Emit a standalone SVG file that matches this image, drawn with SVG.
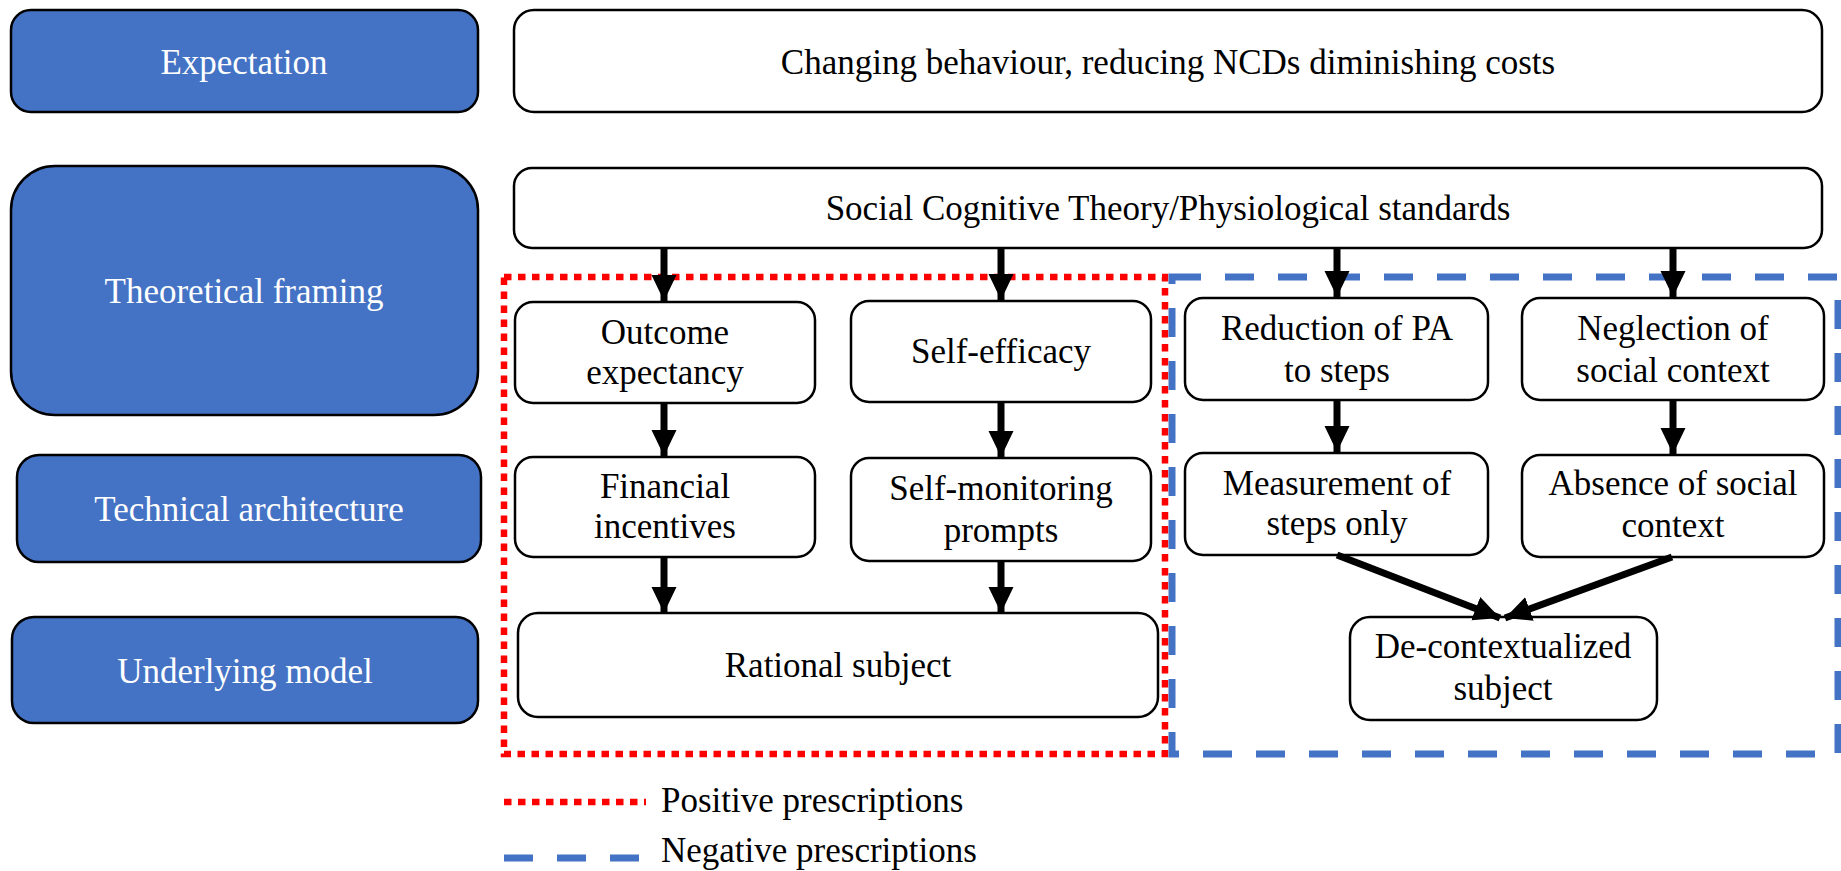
<svg xmlns="http://www.w3.org/2000/svg" width="1841" height="871" viewBox="0 0 1841 871">
  <defs>
    <style>
      .lab { fill: #4472C4; stroke: #000; stroke-width: 2.5; }
      .box { fill: #fff; stroke: #000; stroke-width: 2.5; }
      text { font-family: 'Liberation Serif', 'Times New Roman', serif; font-size: 35px; text-anchor: middle; }
      .w { fill: #fff; }
      .k { fill: #000; }
      .arr { stroke: #000; stroke-width: 7; fill: none; marker-end: url(#head); }
      .pos { fill: none; stroke: #FF0000; stroke-width: 6.5; stroke-dasharray: 7.5 6.5; }
      .neg { fill: none; stroke: #4472C4; stroke-width: 7; stroke-dasharray: 29 24; }
    </style>
    <marker id="head" markerUnits="userSpaceOnUse" markerWidth="28" markerHeight="28" viewBox="0 0 28 28" refX="26" refY="14" orient="auto">
      <path d="M0,1.5 L26,14 L0,26.5 Z" fill="#000"/>
    </marker>
  </defs>

  <!-- row labels -->
  <g id="lab-expectation">
    <rect class="lab" x="11" y="10" width="467" height="102" rx="20"/>
    <text class="w" x="244" y="74">Expectation</text>
  </g>
  <g id="lab-theoretical">
    <rect class="lab" x="11" y="166" width="467" height="249" rx="44"/>
    <text class="w" x="244" y="303">Theoretical framing</text>
  </g>
  <g id="lab-technical">
    <rect class="lab" x="17" y="455" width="464" height="107" rx="22"/>
    <text class="w" x="249" y="521">Technical architecture</text>
  </g>
  <g id="lab-model">
    <rect class="lab" x="12" y="617" width="466" height="106" rx="22"/>
    <text class="w" x="245" y="683">Underlying model</text>
  </g>

  <!-- prescription groupings -->
  <g id="group-positive">
    <rect class="pos" x="504" y="277" width="661" height="477"/>
  </g>
  <g id="group-negative">
    <rect class="neg" x="1172" y="277" width="666" height="477"/>
  </g>

  <!-- content nodes -->
  <g id="n-expectation">
    <rect class="box" x="514" y="10" width="1308" height="102" rx="20"/>
    <text class="k" x="1168" y="74">Changing behaviour, reducing NCDs diminishing costs</text>
  </g>
  <g id="n-sct">
    <rect class="box" x="514" y="168" width="1308" height="80" rx="18"/>
    <text class="k" x="1168" y="220">Social Cognitive Theory/Physiological standards</text>
  </g>
  <g id="n-outcome">
    <rect class="box" x="515" y="302" width="300" height="101" rx="18"/>
    <text class="k" x="665" y="344">Outcome</text>
    <text class="k" x="665" y="384">expectancy</text>
  </g>
  <g id="n-selfeff">
    <rect class="box" x="851" y="301" width="300" height="101" rx="18"/>
    <text class="k" x="1001" y="363">Self-efficacy</text>
  </g>
  <g id="n-reduction">
    <rect class="box" x="1185" y="298" width="303" height="102" rx="18"/>
    <text class="k" x="1337" y="340">Reduction of PA</text>
    <text class="k" x="1337" y="382">to steps</text>
  </g>
  <g id="n-neglection">
    <rect class="box" x="1522" y="298" width="302" height="102" rx="18"/>
    <text class="k" x="1673" y="340">Neglection of</text>
    <text class="k" x="1673" y="382">social context</text>
  </g>
  <g id="n-financial">
    <rect class="box" x="515" y="457" width="300" height="100" rx="18"/>
    <text class="k" x="665" y="498">Financial</text>
    <text class="k" x="665" y="538">incentives</text>
  </g>
  <g id="n-selfmon">
    <rect class="box" x="851" y="458" width="300" height="103" rx="18"/>
    <text class="k" x="1001" y="500">Self-monitoring</text>
    <text class="k" x="1001" y="542">prompts</text>
  </g>
  <g id="n-measurement">
    <rect class="box" x="1185" y="453" width="303" height="102" rx="18"/>
    <text class="k" x="1337" y="495">Measurement of</text>
    <text class="k" x="1337" y="535">steps only</text>
  </g>
  <g id="n-absence">
    <rect class="box" x="1522" y="455" width="302" height="102" rx="18"/>
    <text class="k" x="1673" y="495">Absence of social</text>
    <text class="k" x="1673" y="537">context</text>
  </g>
  <g id="n-rational">
    <rect class="box" x="518" y="613" width="640" height="104" rx="20"/>
    <text class="k" x="838" y="677">Rational subject</text>
  </g>
  <g id="n-decontext">
    <rect class="box" x="1350" y="617" width="307" height="103" rx="20"/>
    <text class="k" x="1503" y="658">De-contextualized</text>
    <text class="k" x="1503" y="700">subject</text>
  </g>

  <!-- connectors -->
  <g id="connectors">
    <line class="arr" x1="664" y1="248" x2="664" y2="301"/>
    <line class="arr" x1="1001" y1="248" x2="1001" y2="300"/>
    <line class="arr" x1="1337" y1="248" x2="1337" y2="297"/>
    <line class="arr" x1="1673" y1="248" x2="1673" y2="297"/>
    <line class="arr" x1="664" y1="403" x2="664" y2="456"/>
    <line class="arr" x1="1001" y1="402" x2="1001" y2="457"/>
    <line class="arr" x1="1337" y1="400" x2="1337" y2="452"/>
    <line class="arr" x1="1673" y1="400" x2="1673" y2="454"/>
    <line class="arr" x1="664" y1="557" x2="664" y2="613"/>
    <line class="arr" x1="1001" y1="561" x2="1001" y2="613"/>
    <line class="arr" x1="1337" y1="555" x2="1500" y2="618"/>
    <line class="arr" x1="1672" y1="557" x2="1505" y2="618"/>
  </g>

  <!-- legend -->
  <g id="legend">
    <line class="pos" x1="504" y1="802" x2="646" y2="802"/>
    <text class="k" x="661" y="812" style="text-anchor:start">Positive prescriptions</text>
    <line class="neg" x1="504" y1="858" x2="640" y2="858"/>
    <text class="k" x="661" y="862" style="text-anchor:start">Negative prescriptions</text>
  </g>
</svg>
